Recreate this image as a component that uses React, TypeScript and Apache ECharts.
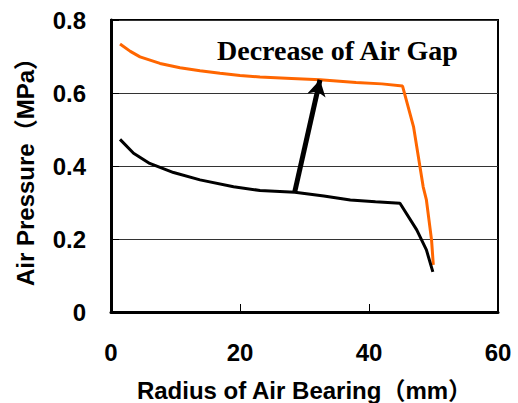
import React, { useEffect, useRef } from "react";
import * as echarts from "echarts";

const orangeRadius = [1.4, 3, 4.5, 7.6, 10.7, 13.8, 16.9, 20, 23.1, 28, 32.4, 38, 42, 45.2, 46.9, 48.4, 48.9, 49.7, 49.97];
const orangePressure = [0.734, 0.714, 0.699, 0.681, 0.669, 0.661, 0.654, 0.648, 0.644, 0.64, 0.636, 0.629, 0.625, 0.619, 0.508, 0.343, 0.307, 0.197, 0.129];

const blackRadius = [1.4, 3.5, 6, 9.7, 13.8, 19, 23.1, 28.5, 33, 37.1, 41, 44.8, 47.4, 48.9, 49.9];
const blackPressure = [0.473, 0.435, 0.407, 0.382, 0.362, 0.343, 0.333, 0.328, 0.318, 0.307, 0.302, 0.298, 0.225, 0.17, 0.11];

const arrowTail = [28.5, 0.33];
const arrowTip = [32.4, 0.636];

const xTicks = { min: 0, max: 60, interval: 20 };
const yTicks = { min: 0, max: 0.8, interval: 0.2 };

const annotation = "Decrease of Air Gap";
const xName = "Radius of Air Bearing（mm）";
const yName = "Air Pressure（MPa）";

export default function App() {
  const ref = useRef<HTMLDivElement>(null);
  useEffect(() => {
    if (!ref.current) return;
    const chart = echarts.init(ref.current, null, { renderer: "svg" });
    const labelFont = {
      fontFamily: '"Liberation Sans", "Noto Sans CJK JP"',
      fontWeight: "bold" as const,
      fontSize: 24,
      color: "#000",
    };
    chart.setOption({
      animation: false,
      grid: {
        left: 111,
        right: 20,
        top: 20,
        bottom: 91,
        show: true,
        borderColor: "#000",
        borderWidth: 2,
        backgroundColor: "transparent",
        containLabel: false,
        outerBoundsMode: "none",
      },
      xAxis: {
        type: "value",
        min: xTicks.min,
        max: xTicks.max,
        interval: xTicks.interval,
        name: xName,
        nameLocation: "middle",
        nameGap: 66,
        nameTextStyle: { ...labelFont },
        axisLine: { lineStyle: { color: "#000", width: 3 } },
        axisTick: { inside: true, length: 8, lineStyle: { color: "#000", width: 1 } },
        axisLabel: { ...labelFont, margin: 28 },
        splitLine: { show: false },
      },
      yAxis: {
        type: "value",
        min: yTicks.min,
        max: yTicks.max,
        interval: yTicks.interval,
        name: yName,
        nameLocation: "middle",
        nameGap: 74,
        nameTextStyle: { ...labelFont },
        axisLine: { show: true, lineStyle: { color: "#000", width: 3 } },
        axisTick: { show: true, inside: true, length: 8, lineStyle: { color: "#000", width: 1 } },
        axisLabel: {
          ...labelFont,
          margin: 25,
          formatter: (v: number) => (v === 0 ? "0" : v.toFixed(1)),
        },
        splitLine: { show: true, lineStyle: { color: "#333", width: 1 } },
      },
      series: [
        {
          type: "line",
          data: orangeRadius.map((x, i) => [x, orangePressure[i]]),
          symbol: "none",
          lineStyle: { color: "#ff6600", width: 3 },
          z: 3,
        },
        {
          type: "line",
          data: blackRadius.map((x, i) => [x, blackPressure[i]]),
          symbol: "none",
          lineStyle: { color: "#000", width: 3 },
          z: 4,
          markLine: {
            silent: true,
            animation: false,
            label: { show: false },
            symbol: ["none", "arrow"],
            symbolSize: [14, 16],
            lineStyle: { color: "#000", width: 5, type: "solid" },
            data: [[{ coord: arrowTail }, { coord: arrowTip }]],
          },
        },
      ],
      graphic: [
        {
          type: "text",
          left: 217,
          top: 36,
          style: {
            text: annotation,
            font: 'bold 28px "Liberation Serif"',
            fill: "#000",
          },
        },
      ],
    });
    return () => chart.dispose();
  }, []);
  return <div ref={ref} style={{ width: 518, height: 403, position: "absolute", left: 0, top: 0 }} />;
}
